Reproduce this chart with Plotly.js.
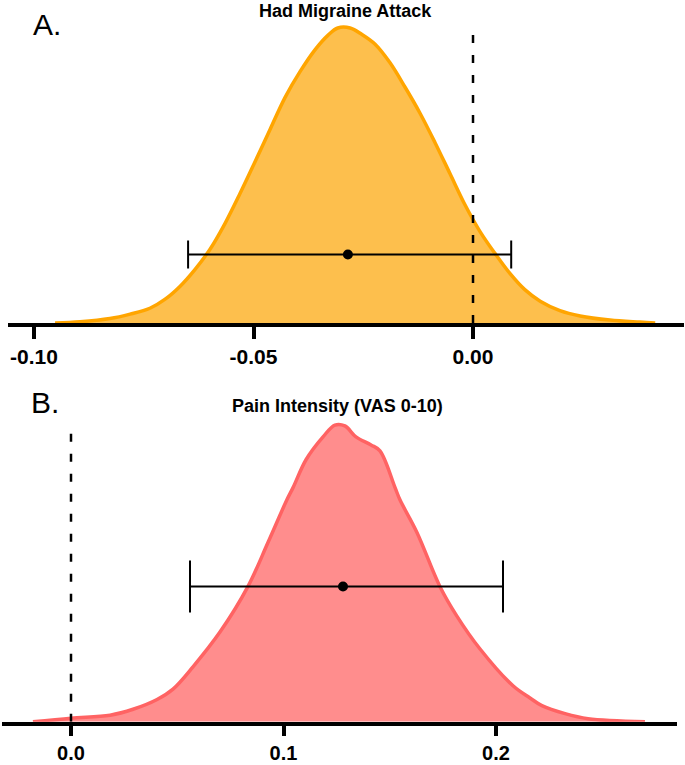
<!DOCTYPE html>
<html>
<head>
<meta charset="utf-8">
<script src="https://cdn.plot.ly/plotly-3.0.1.min.js"></script>
<style>html,body{margin:0;padding:0;background:#fff;}#chart{width:685px;height:765px;}</style>
</head>
<body>
<div id="chart"></div>
<script>
// ---- Panel A: Had Migraine Attack (posterior density, relative height) ----
const topX = [-0.0952, -0.0895, -0.0827, -0.0781, -0.0736, -0.0702, -0.0667, -0.0633, -0.0599, -0.0565,
  -0.0531, -0.0497, -0.0462, -0.0428, -0.0394, -0.0360, -0.0330, -0.0308, -0.0280, -0.0253,
  -0.0223, -0.0189, -0.0155, -0.0121, -0.0087, -0.0052, -0.0018, 0.0016, 0.0050, 0.0084,
  0.0118, 0.0153, 0.0198, 0.0244, 0.0312, 0.0380, 0.0415];
const topDensity = [0.000, 0.004, 0.015, 0.030, 0.050, 0.080, 0.125, 0.182, 0.250, 0.337,
  0.438, 0.545, 0.657, 0.765, 0.852, 0.926, 0.976, 1.000, 1.000, 0.978,
  0.945, 0.882, 0.800, 0.712, 0.613, 0.505, 0.400, 0.310, 0.236, 0.168,
  0.113, 0.074, 0.042, 0.024, 0.010, 0.003, 0.000];
const topEstimate = -0.0285;
const topLower = -0.0649;
const topUpper = 0.0087;
const topTicks = [-0.10, -0.05, 0.00];
const topTickText = ['-0.10', '-0.05', '0.00'];

// ---- Panel B: Pain Intensity (VAS 0-10) ----
const botX = [-0.0179, 0.0000, 0.0184, 0.0292, 0.0405, 0.0480, 0.0574, 0.0701, 0.0833, 0.0927,
  0.1016, 0.1045, 0.1106, 0.1186, 0.1242, 0.1289, 0.1341, 0.1412, 0.1454, 0.1525,
  0.1548, 0.1628, 0.1736, 0.1816, 0.1925, 0.2080, 0.2160, 0.2216, 0.2325, 0.2433, 0.2701];
const botDensity = [0.000, 0.012, 0.022, 0.042, 0.075, 0.110, 0.185, 0.302, 0.456, 0.604,
  0.748, 0.789, 0.883, 0.960, 1.000, 0.997, 0.960, 0.933, 0.913, 0.789,
  0.748, 0.638, 0.456, 0.356, 0.245, 0.121, 0.080, 0.054, 0.027, 0.010, 0.000];
const botEstimate = 0.128;
const botLower = 0.056;
const botUpper = 0.2033;
const botTicks = [0.0, 0.1, 0.2];
const botTickText = ['0.0', '0.1', '0.2'];

const panelTitles = ['Had Migraine Attack', 'Pain Intensity (VAS 0-10)'];
const panelLabels = ['A.', 'B.'];

// ---- styling ----
const FONT = 'Liberation Sans, Arial, Helvetica, sans-serif';
const W = 685, H = 765;
const px = v => v / W;
const py = v => (H - v) / H;

const traces = [
  {x: topX, y: topDensity, xaxis: 'x', yaxis: 'y', type: 'scatter', mode: 'lines',
   line: {color: 'rgb(255,165,0)', width: 3.5, shape: 'spline', smoothing: 1},
   fill: 'tozeroy', fillcolor: 'rgb(253,191,77)', hoverinfo: 'skip'},
  {x: [topEstimate], y: [0.232], xaxis: 'x', yaxis: 'y', type: 'scatter', mode: 'markers',
   marker: {color: 'black', size: 10},
   error_x: {type: 'data', symmetric: false, array: [topUpper - topEstimate],
             arrayminus: [topEstimate - topLower], color: 'black', thickness: 2, width: 14}},
  {x: botX, y: botDensity, xaxis: 'x2', yaxis: 'y2', type: 'scatter', mode: 'lines',
   line: {color: 'rgb(255,99,99)', width: 3.5, shape: 'spline', smoothing: 1},
   fill: 'tozeroy', fillcolor: 'rgb(255,141,141)', hoverinfo: 'skip'},
  {x: [botEstimate], y: [0.456], xaxis: 'x2', yaxis: 'y2', type: 'scatter', mode: 'markers',
   marker: {color: 'black', size: 10},
   error_x: {type: 'data', symmetric: false, array: [botUpper - botEstimate],
             arrayminus: [botEstimate - botLower], color: 'black', thickness: 2, width: 26}}
];

const xCommon = {
  showline: true, linecolor: 'black', linewidth: 4, zeroline: false, showgrid: false,
  ticks: 'outside', ticklen: 12, tickwidth: 4, tickcolor: 'black',
  tickfont: {family: FONT, size: 21, color: 'black', weight: 'bold'},
  tickmode: 'array', fixedrange: true
};

const layout = {
  width: W, height: H,
  margin: {l: 0, r: 0, t: 0, b: 0},
  paper_bgcolor: 'white', plot_bgcolor: 'rgba(0,0,0,0)',
  showlegend: false, hovermode: false,
  xaxis: Object.assign({}, xCommon, {domain: [px(8), px(684)], range: [-0.10592, 0.04806],
    tickvals: topTicks, ticktext: topTickText, anchor: 'y'}),
  yaxis: {domain: [py(323), py(13.25)], range: [0, 1.05], visible: false, fixedrange: true, anchor: 'x'},
  xaxis2: Object.assign({}, xCommon, {domain: [px(2), px(677)], range: [-0.03247, 0.28518],
    tickvals: botTicks, ticktext: botTickText, anchor: 'y2', ticklen: 10,
    tickfont: {family: FONT, size: 20, color: 'black', weight: 'bold'}}),
  yaxis2: {domain: [py(721.7), py(410.2)], range: [0, 1.05], visible: false, fixedrange: true, anchor: 'x2'},
  shapes: [
    {type: 'line', xref: 'x', yref: 'y', x0: 0, x1: 0, y0: 0, y1: 0.983,
     line: {color: 'black', width: 2.5, dash: '8px,12px'}},
    {type: 'line', xref: 'x2', yref: 'y2', x0: 0, x1: 0, y0: 0, y1: 0.977,
     line: {color: 'black', width: 2.5, dash: '8px,12px'}}
  ],
  annotations: [
    {text: panelTitles[0], xref: 'paper', yref: 'paper', x: px(345), y: py(11.5), xanchor: 'center', yanchor: 'middle',
     showarrow: false, font: {family: FONT, size: 18, color: 'black', weight: 'bold'}},
    {text: panelTitles[1], xref: 'paper', yref: 'paper', x: px(337), y: py(406), xanchor: 'center', yanchor: 'middle',
     showarrow: false, font: {family: FONT, size: 18, color: 'black', weight: 'bold'}},
    {text: panelLabels[0], xref: 'paper', yref: 'paper', x: px(31), y: py(24), xanchor: 'left', yanchor: 'middle',
     showarrow: false, font: {family: FONT, size: 30, color: 'black'}},
    {text: panelLabels[1], xref: 'paper', yref: 'paper', x: px(29), y: py(402), xanchor: 'left', yanchor: 'middle',
     showarrow: false, font: {family: FONT, size: 30, color: 'black'}}
  ]
};

Plotly.newPlot('chart', traces, layout, {staticPlot: true, displayModeBar: false});
</script>
</body>
</html>
